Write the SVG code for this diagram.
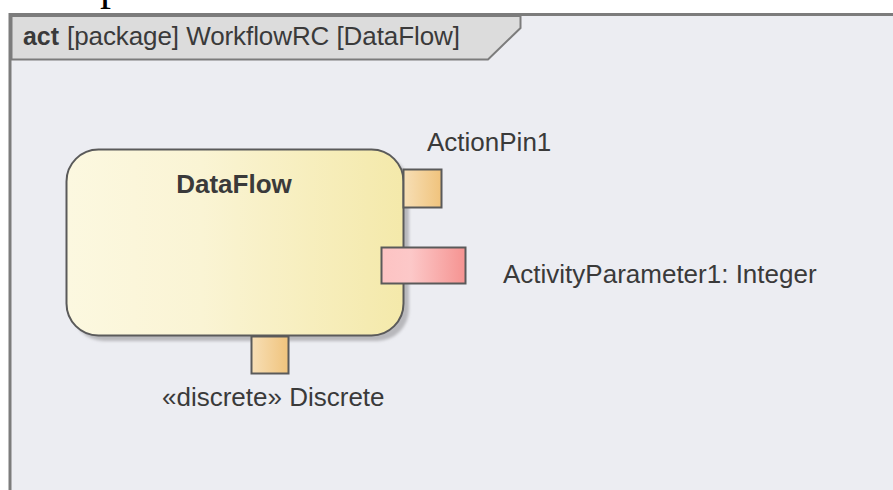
<svg xmlns="http://www.w3.org/2000/svg" width="893" height="490" viewBox="0 0 893 490">
  <defs>
    <linearGradient id="gNode" x1="0" y1="0" x2="1" y2="0">
      <stop offset="0" stop-color="#fcf8e0"/>
      <stop offset="0.4" stop-color="#faf4d4"/>
      <stop offset="1" stop-color="#f4e9aa"/>
    </linearGradient>
    <linearGradient id="gPin" x1="0" y1="0" x2="1" y2="0">
      <stop offset="0" stop-color="#f7dfb6"/>
      <stop offset="1" stop-color="#f0c37c"/>
    </linearGradient>
    <linearGradient id="gParam" x1="0" y1="0" x2="1" y2="0">
      <stop offset="0" stop-color="#fdc3c3"/>
      <stop offset="0.35" stop-color="#fcc8c8"/>
      <stop offset="1" stop-color="#f59391"/>
    </linearGradient>
    <filter id="blur" x="-10%" y="-10%" width="120%" height="120%">
      <feGaussianBlur stdDeviation="1.5"/>
    </filter>
  </defs>
  <style>
    .lbl { font-family: "Liberation Sans", Arial, sans-serif; font-size: 26px; fill: #3a3a3a; }
    .bold { font-weight: bold; }
    .pin { stroke: #5a5a5a; stroke-width: 2; }
  </style>

  <rect x="0" y="0" width="893" height="490" fill="#ffffff"/>
  <text x="100" y="0" font-family="'Liberation Serif', serif" font-size="44" fill="#000">p</text>

  <g id="frame">
    <rect x="10" y="14.5" width="900" height="500" fill="#ecedf2" stroke="#7c7c7c" stroke-width="3"/>
    <polygon points="11.5,16 520.5,16 520.5,28 488,59.5 11.5,59.5" fill="#dcdcdc" stroke="#7c7c7c" stroke-width="2"/>
    <rect x="11.5" y="16" width="5" height="1" fill="none"/>
    <text x="23" y="45" class="lbl bold" textLength="36" lengthAdjust="spacingAndGlyphs">act</text>
    <text x="67" y="45" class="lbl" textLength="393" lengthAdjust="spacing">[package] WorkflowRC [DataFlow]</text>
  </g>

  <g id="DataFlow">
    <rect x="72" y="155" width="337" height="186" rx="32" ry="32" fill="#b8b8bc" filter="url(#blur)"/>
    <rect x="66.5" y="149.5" width="337" height="186" rx="32" ry="32" fill="url(#gNode)" stroke="#5a5a5a" stroke-width="2"/>
    <text x="234" y="193" class="lbl bold" text-anchor="middle">DataFlow</text>
  </g>

  <g id="ActionPin1">
    <rect x="403.5" y="169.5" width="38" height="38" fill="url(#gPin)" class="pin"/>
    <text x="427" y="151" class="lbl">ActionPin1</text>
  </g>

  <g id="ActivityParameter1">
    <rect x="381.5" y="247.5" width="84" height="36" fill="url(#gParam)" class="pin"/>
    <text x="503" y="283" class="lbl">ActivityParameter1: Integer</text>
  </g>

  <g id="Discrete">
    <rect x="251.5" y="336.5" width="37" height="37" fill="url(#gPin)" class="pin"/>
    <text x="162" y="406" class="lbl">«discrete» Discrete</text>
  </g>

  <g id="connectors"></g>
</svg>
